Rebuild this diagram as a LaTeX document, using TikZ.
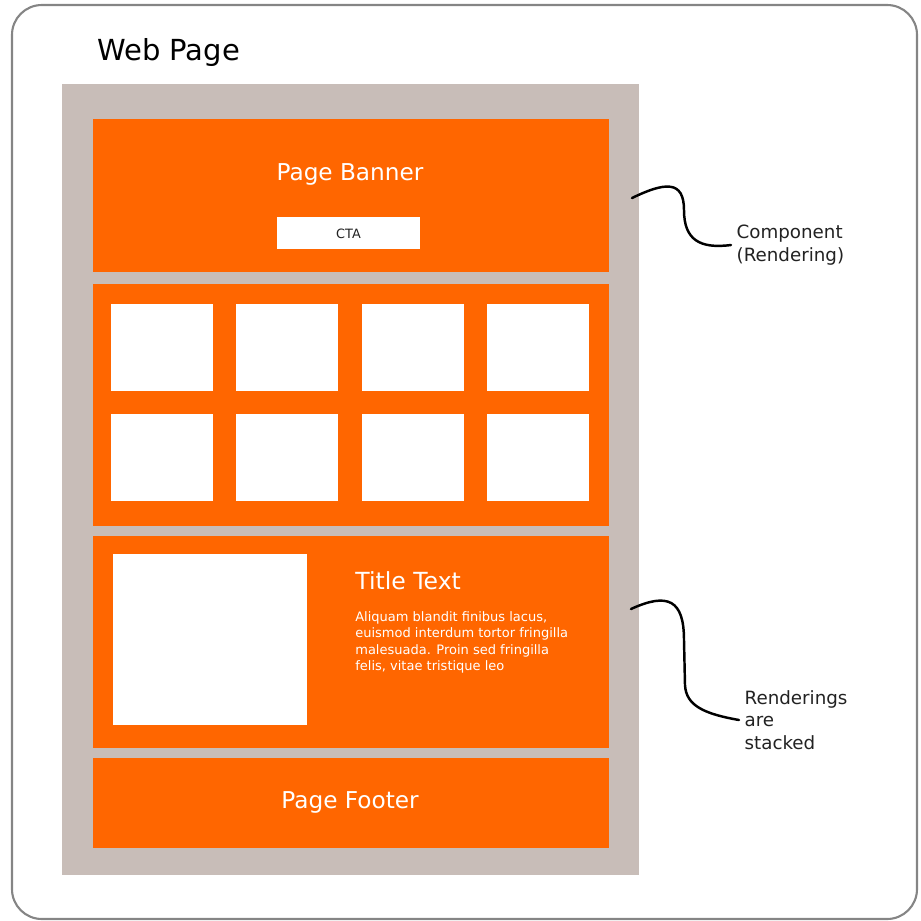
\documentclass[tikz,border=0pt]{standalone}
\usepackage{fontspec}
\setmainfont{DejaVu Sans}
\definecolor{pagegray}{HTML}{C8BDB8}
\definecolor{bannerorange}{HTML}{FF6600}
\definecolor{framegray}{HTML}{858585}
\definecolor{inkgray}{HTML}{222222}
\tikzset{
  block/.style={fill=bannerorange},
  tile/.style={fill=white},
  wtext/.style={text=white, inner sep=0pt},
  note/.style={text=inkgray, font=\fontsize{10.4}{12.8}\selectfont, align=left, anchor=west, inner sep=3pt},
  squiggle/.style={line width=1.4pt, line cap=round},
}

\begin{document}
\begin{tikzpicture}[x=0.02cm, y=-0.02cm]
  \useasboundingbox (0,0) rectangle (921,921);

  % outer frame
  \draw[framegray, line width=1.2pt, rounded corners=17pt] (12,5) rectangle (917,919);
  \node[anchor=west, inner sep=0pt, font=\fontsize{16.5}{19}\selectfont] (title) at (97,52) {Web Page};

  % page body
  \fill[pagegray] (62,84) rectangle (639,875);
  \coordinate (topedge) at (632,198);
  \coordinate (midedge) at (631,609);

  % banner
  \fill[block] (93,119) rectangle (609,272);
  \node[wtext, font=\fontsize{13.2}{15}\selectfont] (banner) at (350,174) {Page Banner};
  \fill[tile] (277,217) rectangle (420,249);
  \node[inner sep=0pt, text=inkgray, font=\fontsize{7.3}{8}\selectfont] (cta) at (348.5,234) {CTA};

  % grid of cards
  \fill[block] (93,284) rectangle (609,526);
  \foreach \x in {111,236,362,487} {
    \foreach \y in {304,414} {
      \fill[tile] (\x,\y) rectangle ++(102,87);
    }
  }

  % feature
  \fill[block] (93,536) rectangle (609,748);
  \fill[tile] (113,554) rectangle (307,725);
  \node[wtext, anchor=west, font=\fontsize{13.4}{15}\selectfont] (feat) at (355,581) {Title Text};
  \node[wtext, anchor=north west, align=left, font=\fontsize{7.4}{9.35}\selectfont] (para) at (355,611)
    {Aliquam blandit finibus lacus,\\euismod interdum tortor fringilla\\malesuada. Proin sed fringilla\\felis, vitae tristique leo};

  % footer
  \fill[block] (93,758) rectangle (609,848);
  \node[wtext, font=\fontsize{13.2}{15}\selectfont] (footer) at (350,802) {Page Footer};

  % notes
  \node[note] (comp) at (731,245) {Component\\(Rendering)};
  \node[note] (stack) at (739,720) {Renderings\\are\\stacked};

  \draw[squiggle] (topedge) .. controls (665,182) and (684,180) .. (684,210)
    .. controls (684,240) and (700,249) .. (comp.west);
  \draw[squiggle] (midedge) .. controls (668,592) and (684,600) .. (684,640)
    -- (685,685) .. controls (686,706) and (705,714) .. (stack.west);

\end{tikzpicture}
\end{document}
